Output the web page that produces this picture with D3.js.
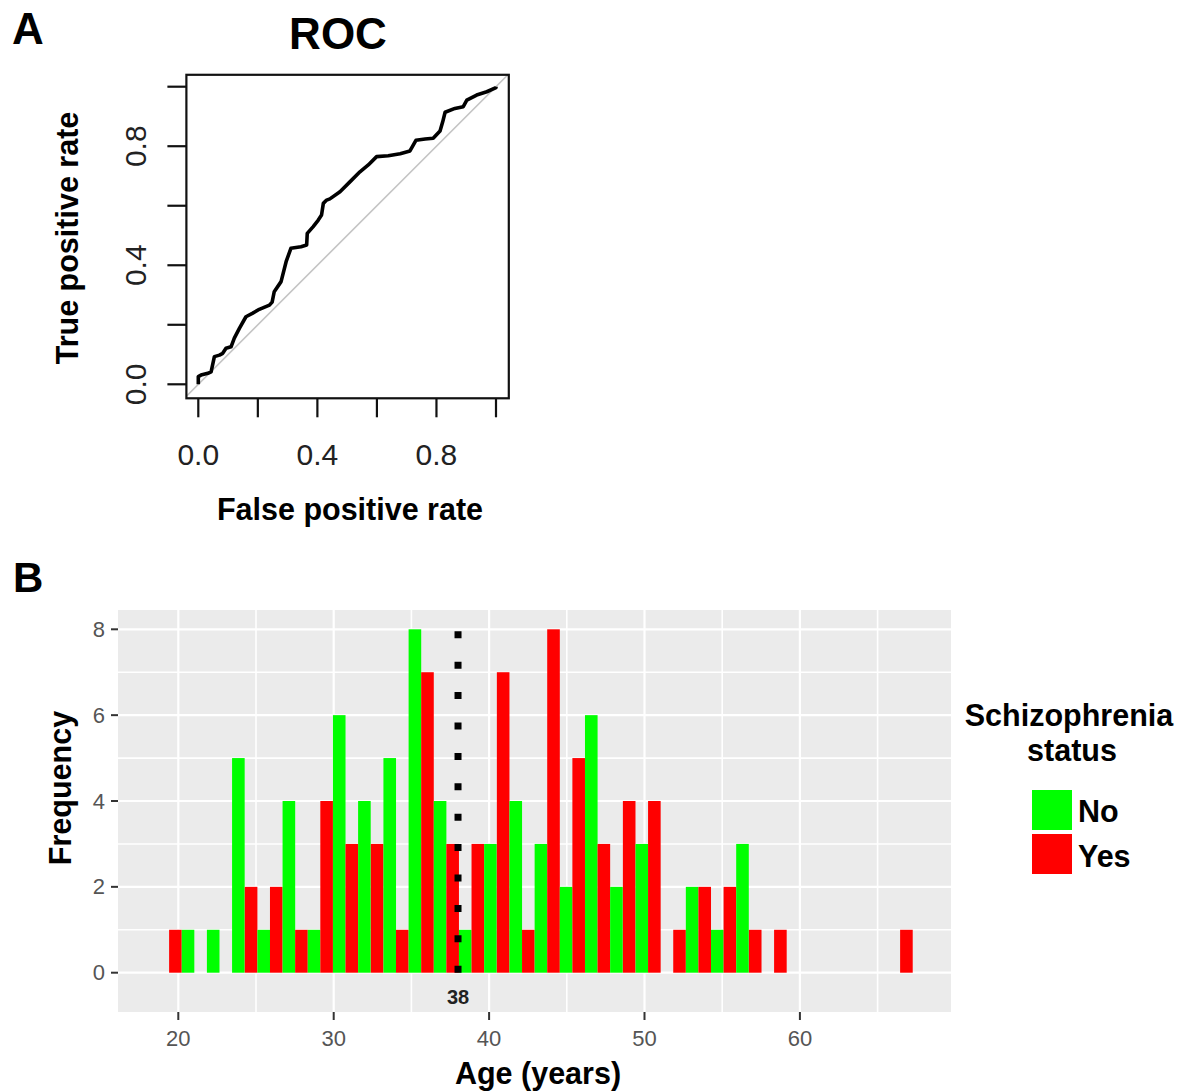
<!DOCTYPE html>
<html>
<head>
<meta charset="utf-8">
<script src="https://cdn.jsdelivr.net/npm/d3@7"></script>
<style>
  body { margin: 0; background: #fff; }
  text { font-family: "Liberation Sans", Arial, sans-serif; }
</style>
</head>
<body>
<script>
// ROC curve points (panel A)
const rocFpr = [0, 0, 0.009, 0.032, 0.043, 0.054, 0.071, 0.082, 0.093, 0.110, 0.121, 0.138, 0.160, 0.183, 0.205,
  0.239, 0.248, 0.255, 0.278, 0.295, 0.311, 0.345, 0.364, 0.366, 0.386, 0.403, 0.414, 0.420, 0.431, 0.442,
  0.476, 0.510, 0.543, 0.571, 0.599, 0.638, 0.678, 0.711, 0.731, 0.762, 0.789, 0.812, 0.821, 0.829, 0.862,
  0.890, 0.902, 0.935, 0.969, 1.0, 1.0];
const rocTpr = [0, 0.026, 0.031, 0.037, 0.042, 0.093, 0.098, 0.104, 0.121, 0.126, 0.155, 0.188, 0.227, 0.239, 0.252,
  0.266, 0.276, 0.311, 0.345, 0.412, 0.457, 0.462, 0.468, 0.507, 0.530, 0.552, 0.569, 0.608, 0.619, 0.623,
  0.647, 0.681, 0.714, 0.737, 0.765, 0.768, 0.775, 0.784, 0.820, 0.824, 0.827, 0.851, 0.882, 0.914, 0.927,
  0.933, 0.955, 0.972, 0.983, 0.997, 1.0];
const rocTicks = [0, 0.2, 0.4, 0.6, 0.8, 1.0];
const rocTickLabels = [0, 0.4, 0.8];

// Histogram (panel B): bin centres (age) and counts per group
const binWidth = 1.622;
const binCenters = [20.22, 21.84, 23.46, 25.09, 26.71, 28.33, 29.95, 31.57, 33.20, 34.82,
  36.44, 38.06, 39.68, 41.31, 42.93, 44.55, 46.17, 47.79, 49.42, 51.04,
  52.66, 54.28, 55.90, 57.53, 59.15, 60.77, 62.39, 64.01, 65.64, 67.26];
const countsYes = [1, 0, 0, 2, 2, 1, 4, 3, 3, 1, 7, 3, 3, 7, 1, 8, 5, 3, 4, 4, 1, 2, 2, 1, 1, 0, 0, 0, 0, 1];
const countsNo  = [1, 1, 5, 1, 4, 1, 6, 4, 5, 8, 4, 1, 3, 4, 3, 2, 6, 2, 3, 0, 2, 1, 3, 0, 0, 0, 0, 0, 0, 0];
const ageTicks = [20, 30, 40, 50, 60];
const ageMinor = [25, 35, 45, 55, 65];
const freqTicks = [0, 2, 4, 6, 8];
const freqMinor = [1, 3, 5, 7];
const cutoff = 38;
const groups = ["No", "Yes"];
const groupColors = { No: "#00ff00", Yes: "#ff0000" };

const W = 1183, H = 1091;
const titleSize = "30.5px";
const svg = d3.select("body").append("svg").attr("width", W).attr("height", H);

// ---------- Panel A : ROC ----------
const xA = d3.scaleLinear().domain([0, 1]).range([198.3, 496]);
const yA = d3.scaleLinear().domain([0, 1]).range([384.3, 86.7]);
const boxL = xA(-0.04), boxR = xA(1.043), boxT = yA(1.04), boxB = yA(-0.047);

svg.append("text").attr("x", 12).attr("y", 44).style("font-size", "44px").style("font-weight", "bold").text("A");
svg.append("text").attr("x", 338).attr("y", 49).attr("text-anchor", "middle")
  .style("font-size", "44px").style("font-weight", "bold").text("ROC");

svg.append("defs").append("clipPath").attr("id", "rocClip")
  .append("rect").attr("x", boxL).attr("y", boxT).attr("width", boxR - boxL).attr("height", boxB - boxT);

// diagonal reference
svg.append("line").attr("clip-path", "url(#rocClip)")
  .attr("x1", xA(-0.1)).attr("y1", yA(-0.1)).attr("x2", xA(1.1)).attr("y2", yA(1.1))
  .attr("stroke", "#c4c4c4").attr("stroke-width", 1.6);

const rocPts = rocFpr.map((f, i) => [f, rocTpr[i]]);
svg.append("path").datum(rocPts)
  .attr("d", d3.line().x(d => xA(d[0])).y(d => yA(d[1])))
  .attr("fill", "none").attr("stroke", "#000").attr("stroke-width", 3.6).attr("stroke-linejoin", "round");

svg.append("rect").attr("x", boxL).attr("y", boxT).attr("width", boxR - boxL).attr("height", boxB - boxT)
  .attr("fill", "none").attr("stroke", "#111").attr("stroke-width", 2.2);

const axA = svg.append("g");
rocTicks.forEach(t => {
  axA.append("line").attr("x1", xA(t)).attr("x2", xA(t)).attr("y1", boxB).attr("y2", boxB + 19)
    .attr("stroke", "#111").attr("stroke-width", 2.2);
  axA.append("line").attr("y1", yA(t)).attr("y2", yA(t)).attr("x1", boxL).attr("x2", boxL - 19)
    .attr("stroke", "#111").attr("stroke-width", 2.2);
});
rocTickLabels.forEach(t => {
  axA.append("text").attr("x", xA(t)).attr("y", 465).attr("text-anchor", "middle")
    .style("font-size", "30px").attr("fill", "#222").text(d3.format(".1f")(t));
  axA.append("text").attr("transform", `translate(146,${yA(t)}) rotate(-90)`).attr("text-anchor", "middle")
    .style("font-size", "30px").attr("fill", "#222").text(d3.format(".1f")(t));
});
svg.append("text").attr("x", 350).attr("y", 520).attr("text-anchor", "middle")
  .style("font-size", titleSize).style("font-weight", "bold").text("False positive rate");
svg.append("text").attr("transform", "translate(78,238) rotate(-90)").attr("text-anchor", "middle")
  .style("font-size", titleSize).style("font-weight", "bold").text("True positive rate");

// ---------- Panel B : histogram ----------
svg.append("text").attr("x", 13).attr("y", 592).style("font-size", "42px").style("font-weight", "bold").text("B");

const xB = d3.scaleLinear().domain([20, 60]).range([178.3, 799.9]);
const yB = d3.scaleLinear().domain([0, 8]).range([972.7, 629.3]);
const pL = 118, pR = 951, pT = 610, pB = 1012;

svg.append("rect").attr("x", pL).attr("y", pT).attr("width", pR - pL).attr("height", pB - pT).attr("fill", "#ebebeb");

const grid = svg.append("g").attr("stroke", "#fff");
ageMinor.forEach(a => grid.append("line").attr("x1", xB(a)).attr("x2", xB(a)).attr("y1", pT).attr("y2", pB).attr("stroke-width", 1.6));
freqMinor.forEach(f => grid.append("line").attr("y1", yB(f)).attr("y2", yB(f)).attr("x1", pL).attr("x2", pR).attr("stroke-width", 1.6));
ageTicks.forEach(a => grid.append("line").attr("x1", xB(a)).attr("x2", xB(a)).attr("y1", pT).attr("y2", pB).attr("stroke-width", 2.2));
freqTicks.forEach(f => grid.append("line").attr("y1", yB(f)).attr("y2", yB(f)).attr("x1", pL).attr("x2", pR).attr("stroke-width", 2.2));

const bins = binCenters.map((c, i) => ({ c, Yes: countsYes[i], No: countsNo[i] }));
const barG = svg.append("g");
bins.forEach(b => {
  // dodge: "Yes" in left half, "No" in right half
  if (b.Yes > 0) barG.append("rect").attr("x", xB(b.c - binWidth / 2)).attr("width", xB(b.c) - xB(b.c - binWidth / 2))
    .attr("y", yB(b.Yes)).attr("height", yB(0) - yB(b.Yes)).attr("fill", groupColors.Yes);
  if (b.No > 0) barG.append("rect").attr("x", xB(b.c)).attr("width", xB(b.c + binWidth / 2) - xB(b.c))
    .attr("y", yB(b.No)).attr("height", yB(0) - yB(b.No)).attr("fill", groupColors.No);
});

// cutoff line
svg.append("line").attr("x1", xB(cutoff)).attr("x2", xB(cutoff)).attr("y1", yB(0)).attr("y2", yB(8) - 2)
  .attr("stroke", "#000").attr("stroke-width", 7).attr("stroke-dasharray", "7,23.4");
svg.append("text").attr("x", xB(cutoff)).attr("y", 1004).attr("text-anchor", "middle")
  .style("font-size", "20px").style("font-weight", "bold").attr("fill", "#222").text(cutoff);

// axes
const axB = svg.append("g");
ageTicks.forEach(a => {
  axB.append("line").attr("x1", xB(a)).attr("x2", xB(a)).attr("y1", pB).attr("y2", pB + 8).attr("stroke", "#333").attr("stroke-width", 2);
  axB.append("text").attr("x", xB(a)).attr("y", 1046).attr("text-anchor", "middle")
    .style("font-size", "22px").attr("fill", "#555").text(a);
});
freqTicks.forEach(f => {
  axB.append("line").attr("x1", pL - 7).attr("x2", pL).attr("y1", yB(f)).attr("y2", yB(f)).attr("stroke", "#333").attr("stroke-width", 2);
  axB.append("text").attr("x", 105).attr("y", yB(f) + 7.5).attr("text-anchor", "end")
    .style("font-size", "22px").attr("fill", "#555").text(f);
});
svg.append("text").attr("x", 538).attr("y", 1084).attr("text-anchor", "middle")
  .style("font-size", titleSize).style("font-weight", "bold").text("Age (years)");
svg.append("text").attr("transform", "translate(71,788) rotate(-90)").attr("text-anchor", "middle")
  .style("font-size", titleSize).style("font-weight", "bold").text("Frequency");

// legend
const leg = svg.append("g");
leg.append("text").attr("x", 1069).attr("y", 726).attr("text-anchor", "middle")
  .style("font-size", titleSize).style("font-weight", "bold").text("Schizophrenia");
leg.append("text").attr("x", 1072).attr("y", 761).attr("text-anchor", "middle")
  .style("font-size", titleSize).style("font-weight", "bold").text("status");
groups.forEach((g, i) => {
  leg.append("rect").attr("x", 1032).attr("y", 790 + i * 44).attr("width", 40).attr("height", 40)
    .attr("fill", groupColors[g]);
  leg.append("text").attr("x", 1078).attr("y", 822 + i * 45)
    .style("font-size", titleSize).style("font-weight", "bold").text(g);
});
</script>
</body>
</html>
